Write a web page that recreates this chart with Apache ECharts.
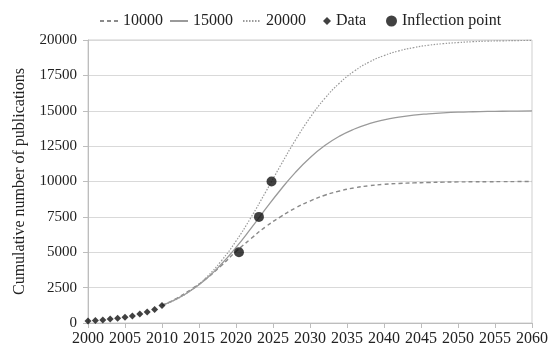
<!DOCTYPE html>
<html>
<head>
<meta charset="utf-8">
<script src="https://cdn.jsdelivr.net/npm/echarts@6/dist/echarts.min.js"></script>
<style>
  html, body { margin: 0; padding: 0; background: #fff; }
  #chart { width: 551px; height: 349px; }
</style>
</head>
<body>
<div id="chart"></div>
<script>
// Observed cumulative publications, 2000-2010
const dataYears = [2000, 2001, 2002, 2003, 2004, 2005, 2006, 2007, 2008, 2009, 2010];
const dataValues = [140, 180, 210, 280, 330, 400, 490, 630, 780, 960, 1240];

// Projection years shared by the three saturation scenarios
const projYears = [2010, 2012, 2014, 2016, 2018, 2020, 2022, 2024, 2026, 2028, 2030, 2032, 2034,
                   2036, 2038, 2040, 2042, 2044, 2046, 2048, 2050, 2052, 2054, 2056, 2058, 2060];
const cap10000 = [1240, 1750, 2400, 3150, 4050, 5050, 5950, 6800, 7500, 8120, 8620, 9030, 9330,
                  9550, 9700, 9800, 9860, 9900, 9930, 9955, 9970, 9980, 9985, 9990, 9995, 9998];
const cap15000 = [1240, 1700, 2330, 3130, 4150, 5340, 6670, 8060, 9400, 10630, 11680, 12540, 13210,
                  13710, 14090, 14360, 14550, 14690, 14780, 14850, 14900, 14930, 14950, 14965, 14975, 14985];
const cap20000 = [1240, 1690, 2350, 3230, 4380, 5790, 7440, 9250, 11110, 12900, 14510, 15870, 16960,
                  17810, 18440, 18900, 19230, 19460, 19630, 19740, 19820, 19880, 19920, 19940, 19960, 19970];

// Inflection points of each scenario
const inflectionYears = [2020.4, 2023.1, 2024.8];
const inflectionValues = [5000, 7500, 10000];

// Axis ticks
const xMin = 2000, xMax = 2060, xStep = 5;
const yMin = 0, yMax = 20000, yStep = 2500;

const zip = (xs, ys) => xs.map((x, i) => [x, ys[i]]);
const serif = '"Liberation Serif", "Times New Roman", serif';
const legendText = { fontFamily: serif, fontSize: 16, color: '#222' };
const plain = v => String(v);

// Line legends show only the stroke, no marker
const lineLegend = (name, left) => ({
  data: [name], left, top: 8, itemWidth: 18, itemHeight: 14,
  itemStyle: { opacity: 0 }, textStyle: legendText
});

const chart = echarts.init(document.getElementById('chart'), null, { renderer: 'canvas' });
chart.setOption({
  animation: false,
  backgroundColor: '#fff',
  grid: {
    left: 88, right: 16, top: 40, bottom: 26,
    show: true, borderColor: '#cfcfcf', borderWidth: 1
  },
  legend: [
    lineLegend('10000', 94),
    lineLegend('15000', 164),
    lineLegend('20000', 237),
    { data: ['Data'], left: 318, top: 8, itemWidth: 8, itemHeight: 8, textStyle: legendText },
    { data: ['Inflection point'], left: 381, top: 8, itemWidth: 11, itemHeight: 11, textStyle: legendText }
  ],
  xAxis: {
    type: 'value', min: xMin, max: xMax, interval: xStep,
    axisLine: { show: true, lineStyle: { color: '#bdbdbd' } },
    axisTick: { show: true, length: 5, lineStyle: { color: '#bdbdbd' } },
    splitLine: { show: false },
    axisLabel: { fontFamily: serif, fontSize: 16, color: '#222', margin: 8, formatter: plain }
  },
  yAxis: {
    type: 'value', min: yMin, max: yMax, interval: yStep,
    name: 'Cumulative number of publications',
    nameLocation: 'middle', nameGap: 60,
    nameTextStyle: { fontFamily: serif, fontSize: 16, color: '#222' },
    axisLine: { show: true, lineStyle: { color: '#bdbdbd' } },
    axisTick: { show: true, length: 5, lineStyle: { color: '#bdbdbd' } },
    splitLine: { show: true, lineStyle: { color: '#d9d9d9', width: 1 } },
    axisLabel: { fontFamily: serif, fontSize: 15, color: '#222', margin: 11, formatter: plain }
  },
  series: [
    {
      name: '10000', type: 'line', smooth: true, symbol: 'none',
      data: zip(projYears, cap10000),
      lineStyle: { color: '#8a8a8a', width: 1.4, type: [4, 3] },
      itemStyle: { color: '#8a8a8a' }, z: 2
    },
    {
      name: '15000', type: 'line', smooth: true, symbol: 'none',
      data: zip(projYears, cap15000),
      lineStyle: { color: '#9a9a9a', width: 1.3, type: 'solid' },
      itemStyle: { color: '#9a9a9a' }, z: 2
    },
    {
      name: '20000', type: 'line', smooth: true, symbol: 'none',
      data: zip(projYears, cap20000),
      lineStyle: { color: '#9a9a9a', width: 1.2, type: [1.5, 1.5] },
      itemStyle: { color: '#9a9a9a' }, z: 2
    },
    {
      name: 'Data', type: 'scatter', symbol: 'diamond', symbolSize: 7,
      data: zip(dataYears, dataValues),
      itemStyle: { color: '#111' }, z: 4
    },
    {
      name: 'Inflection point', type: 'scatter', symbol: 'circle', symbolSize: 10,
      data: zip(inflectionYears, inflectionValues),
      itemStyle: { color: '#111' }, z: 4
    }
  ]
});
</script>
</body>
</html>
